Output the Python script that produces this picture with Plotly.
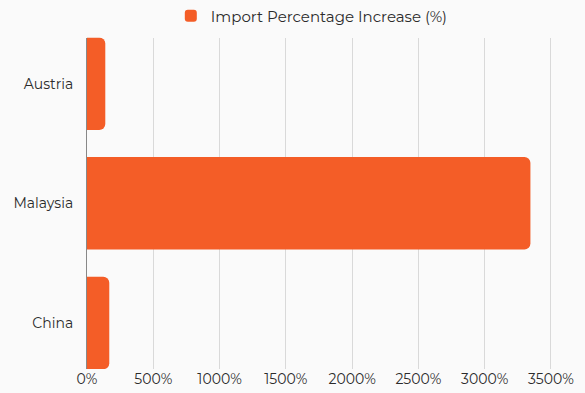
import plotly.graph_objects as go

categories = ["Austria", "Malaysia", "China"]
values = [138, 3345, 168]
series_name = "Import Percentage Increase (%)"
tick_vals = [0, 500, 1000, 1500, 2000, 2500, 3000, 3500]
tick_text = ["0%", "500%", "1000%", "1500%", "2000%", "2500%", "3000%", "3500%"]

fig = go.Figure()
fig.add_trace(go.Bar(
    y=categories, x=values, orientation="h", name=series_name,
    marker=dict(color="#F45D27", line=dict(width=0)),
    showlegend=True,
))
fig.update_layout(
    width=585, height=393,
    margin=dict(l=87, r=5, t=37, b=23),
    paper_bgcolor="#fafafa", plot_bgcolor="#fafafa",
    font=dict(family="Montserrat, Open Sans, sans-serif", size=14, color="#2b2b2b"),
    bargap=0.227,
    barcornerradius=6,
    showlegend=True,
    legend=dict(orientation="h", x=0.533, xanchor="center", y=0.959, yanchor="middle",
                yref="container", xref="container", font=dict(size=15, color="#2b2b2b"),
                itemwidth=30, bgcolor="rgba(0,0,0,0)"),
    xaxis=dict(range=[0, 3719], tickvals=tick_vals, ticktext=tick_text,
               showgrid=True, gridcolor="#d9d9d9", gridwidth=1,
               zeroline=False, showline=False, ticks="", ticklen=0,
               fixedrange=True),
    yaxis=dict(categoryorder="array", categoryarray=categories, autorange=False,
               range=[2.385, -0.385], showgrid=False, zeroline=False,
               showline=True, linecolor="#888888", linewidth=1,
               ticks="", ticklabelstandoff=10),
)
fig.write_html("out.html")
